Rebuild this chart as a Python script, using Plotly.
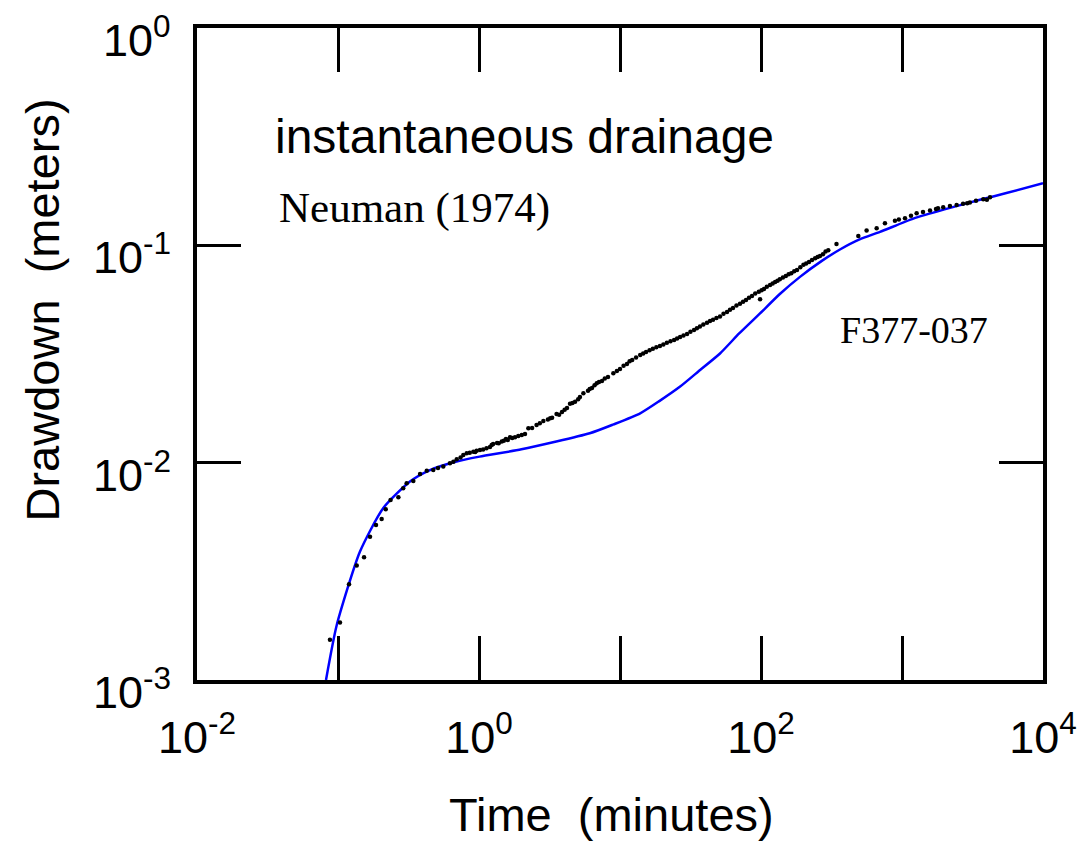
import math
import plotly.graph_objects as go

# Observed drawdown (black dots)
obs_time = [0.0877, 0.1033, 0.1197, 0.1358, 0.153, 0.1687, 0.186, 0.204, 0.218, 0.236,
            0.268, 0.290, 0.307, 0.342, 0.382, 0.426, 0.474, 0.512, 0.558, 0.622,
            0.658, 0.695, 0.774, 0.818, 0.912, 0.962, 1.016, 1.13, 1.197, 1.26,
            1.343, 1.45, 1.553, 1.66, 1.8, 2.01, 2.24, 2.38, 2.56, 2.86,
            3.08, 3.30, 3.55, 3.88, 4.21, 4.42, 4.80, 5.2, 5.5, 5.93,
            6.33, 6.84, 7.45, 8.22, 8.97, 10.0, 11.2, 12.2, 13.9, 15.3,
            17.1, 19.2, 21.5, 24.2, 26.7, 29.9, 33.5, 36.9, 41.4, 45.7,
            51.2, 57.4, 63.3, 71.0, 78.3, 86.3, 96.5, 98.5, 105, 116,
            126, 136, 150, 164, 180, 200, 219, 242, 262, 287,
            343, 490, 561, 661, 757, 891, 1050, 1158, 1270, 1409,
            1580, 1742, 1960, 2188, 2440, 2710, 3030, 3350, 3770, 4210,
            0.74, 0.86, 0.94, 1.07, 1.23, 1.38, 1.50, 1.60, 1.72, 1.90,
            2.12, 2.70, 3.20, 3.70, 4.05, 4.60, 5.05, 6.10, 6.60, 7.10,
            7.80, 9.50, 10.6, 11.7, 13.0, 14.6, 16.2, 18.1, 20.3, 22.8,
            25.4, 28.2, 31.6, 35.1, 39.0, 43.5, 48.3, 54.2, 60.3, 67.0,
            74.6, 82.2, 91.0, 101, 110, 121, 131, 143, 157, 172,
            190, 209, 230, 252, 275, 300, 950, 1800, 2900, 4000]
obs_drawdown = [0.00153, 0.00184, 0.00276, 0.00336, 0.00367, 0.00456, 0.00517, 0.00551, 0.00611, 0.00673,
                0.00693, 0.00762, 0.00804, 0.00824, 0.00887, 0.00919, 0.00925, 0.00946, 0.0096, 0.00994,
                0.0101, 0.01037, 0.01084, 0.01105, 0.01124, 0.01135, 0.01143, 0.01165, 0.0118, 0.0122,
                0.01233, 0.0125, 0.01286, 0.0131, 0.0131, 0.0134, 0.0144, 0.01445, 0.0149, 0.01556,
                0.0158, 0.0161, 0.01676, 0.0171, 0.01786, 0.01866, 0.01906, 0.02005, 0.02085, 0.0214,
                0.02208, 0.0232, 0.02377, 0.02479, 0.0258, 0.02698, 0.02846, 0.0297, 0.0313, 0.0323,
                0.0334, 0.0344, 0.0356, 0.0367, 0.0379, 0.0391, 0.0408, 0.0423, 0.0440, 0.0454,
                0.0470, 0.0494, 0.0515, 0.0538, 0.0561, 0.0585, 0.0612, 0.0565, 0.0630, 0.0657,
                0.0678, 0.0698, 0.0723, 0.0744, 0.0771, 0.0813, 0.0839, 0.0873, 0.0894, 0.0936,
                0.1014, 0.1105, 0.1170, 0.1197, 0.1263, 0.1297, 0.1334, 0.1369, 0.1406, 0.1423,
                0.1446, 0.1470, 0.1498, 0.1515, 0.1535, 0.1552, 0.1573, 0.1603, 0.1630, 0.1665,
                0.01055, 0.01112, 0.01120, 0.01150, 0.01205, 0.01228, 0.01262, 0.01270, 0.01300, 0.01325,
                0.01355, 0.01520, 0.01600, 0.01660, 0.01750, 0.01880, 0.01960, 0.02180, 0.02270, 0.02350,
                0.02440, 0.02640, 0.02790, 0.02930, 0.03050, 0.03180, 0.03290, 0.03400, 0.03500, 0.03620,
                0.03730, 0.03850, 0.04000, 0.04150, 0.04320, 0.04480, 0.04630, 0.04840, 0.05050, 0.05280,
                0.05500, 0.05740, 0.06000, 0.06220, 0.06450, 0.06680, 0.06880, 0.07120, 0.07360, 0.07600,
                0.07920, 0.08250, 0.08560, 0.08830, 0.09100, 0.09500, 0.13150, 0.14800, 0.15600, 0.16200]

# Neuman (1974) type curve (blue line)
model_time = [0.0822, 0.098, 0.143, 0.209, 0.324, 0.449, 0.683, 1.01, 2.0, 6.1,
              9.0, 13.9, 19.0, 26.7, 37.0, 51.2, 70.0, 98.4, 136, 189,
              270, 363, 500, 698, 1203, 2000, 3573, 5500, 10000]
model_drawdown = [0.001, 0.00179, 0.00389, 0.00617, 0.00819, 0.00925, 0.0101, 0.01066, 0.01152, 0.01365,
                  0.0150, 0.01686, 0.0192, 0.0224, 0.0267, 0.0318, 0.0393, 0.0486, 0.0597, 0.0716,
                  0.0848, 0.0957, 0.1065, 0.1153, 0.1327, 0.1463, 0.162, 0.174, 0.193]

x_tickvals = [0.01, 0.1, 1, 10, 100, 1000, 10000]
x_ticktext = ["10<sup>-2</sup>", "", "10<sup>0</sup>", "", "10<sup>2</sup>", "", "10<sup>4</sup>"]
y_tickvals = [0.001, 0.01, 0.1, 1]
y_ticktext = ["10<sup>-3</sup>", "10<sup>-2</sup>", "10<sup>-1</sup>", "10<sup>0</sup>"]

SANS = "Liberation Sans, Arial, sans-serif"
NARROW = "Liberation Sans Narrow, Arial Narrow, Liberation Sans, sans-serif"
SERIF = "Liberation Serif, Times New Roman, serif"

fig = go.Figure()
fig.add_trace(go.Scatter(x=model_time, y=model_drawdown, mode="lines",
                         line=dict(color="#0000ff", width=2.5, shape="spline", smoothing=0.6),
                         showlegend=False))
fig.add_trace(go.Scatter(x=obs_time, y=obs_drawdown, mode="markers",
                         marker=dict(color="black", size=4.5), showlegend=False))

axis_common = dict(showgrid=False, zeroline=False, showline=True, linecolor="black",
                   linewidth=4, mirror="allticks", ticks="inside", ticklen=44,
                   tickwidth=3, tickcolor="black", ticklabeloverflow="allow",
                   automargin=False,
                   tickfont=dict(family=NARROW, size=45, color="black"))

fig.update_xaxes(type="log", range=[-2, 4], tickvals=x_tickvals, ticktext=x_ticktext,
                 ticklabelstandoff=15, **axis_common)
fig.update_yaxes(type="log", range=[-3, 0], tickvals=y_tickvals, ticktext=y_ticktext,
                 showticklabels=False, **axis_common)

# y tick labels, placed at the axis tick values, nudged slightly below the ticks
for val, label in zip(y_tickvals, y_ticktext):
    fig.add_annotation(text=label, xref="paper", yref="y", x=0, y=math.log10(val),
                       xanchor="right", yanchor="middle", xshift=-24, yshift=-9,
                       showarrow=False, font=dict(family=NARROW, size=45, color="black"))

fig.add_annotation(text="Time  (minutes)", xref="paper", yref="paper", x=0.4905, y=-0.207,
                   showarrow=False, font=dict(family=SANS, size=47, color="black"),
                   xanchor="center", yanchor="middle")
fig.add_annotation(text="Drawdown  (meters)", xref="paper", yref="paper", x=-0.183, y=0.567,
                   showarrow=False, textangle=-90, font=dict(family=SANS, size=47, color="black"),
                   xanchor="center", yanchor="middle")
fig.add_annotation(text="instantaneous drainage", xref="x", yref="y", x=-1.461, y=-0.501,
                   showarrow=False, font=dict(family=SANS, size=48, color="black"),
                   xanchor="left", yanchor="middle")
fig.add_annotation(text="Neuman (1974)", xref="x", yref="y", x=-1.433, y=-0.828,
                   showarrow=False, font=dict(family=SERIF, size=43, color="black"),
                   xanchor="left", yanchor="middle")
fig.add_annotation(text="F377-037", xref="x", yref="y", x=2.546, y=-1.389,
                   showarrow=False, font=dict(family=SERIF, size=38, color="black"),
                   xanchor="left", yanchor="middle")

fig.update_layout(width=1083, height=854, margin=dict(l=197, r=40, t=28, b=174, autoexpand=False),
                  plot_bgcolor="white", paper_bgcolor="white")

fig.write_html("out.html")
